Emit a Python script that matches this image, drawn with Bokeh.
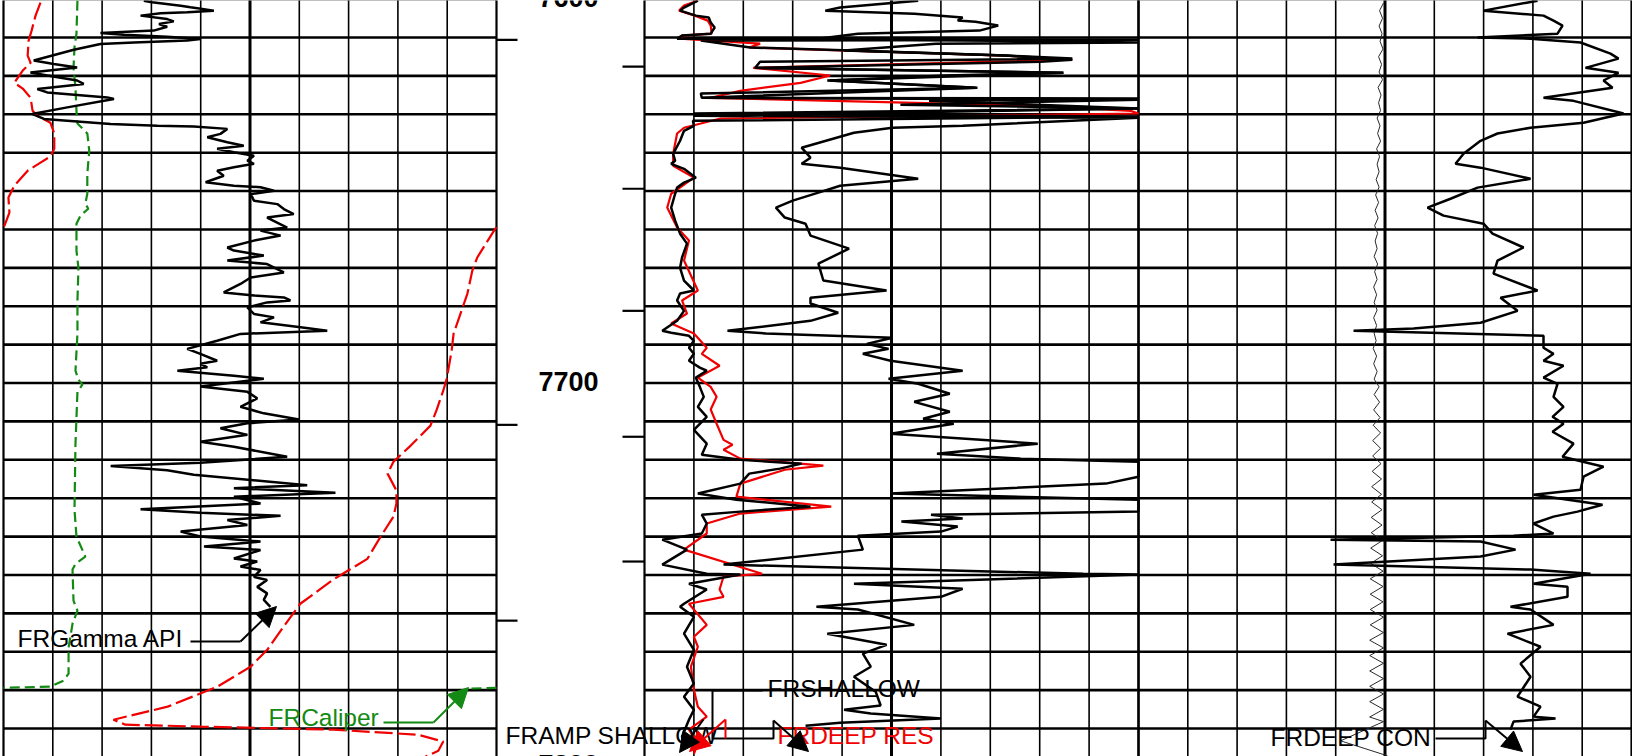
import math
import numpy as np
from bokeh.plotting import figure
from bokeh.models import Range1d, Arrow, NormalHead
from bokeh.embed import file_html
from bokeh.resources import INLINE
from bokeh.core.properties import value

# ---------------- data (depth in ft, values in curve units) ----------------
gr_depth = [7600.4, 7600.8, 7601.7, 7602.1, 7603.0, 7603.4, 7603.7, 7604.3, 7605.2, 7605.8,
            7606.5, 7607.2, 7608.2, 7608.8, 7609.3, 7609.8, 7610.4, 7610.8, 7611.3, 7611.7,
            7613.2, 7616.0, 7616.9, 7617.8, 7619.1, 7619.9, 7621.2, 7622.1, 7623.4, 7624.3,
            7625.6, 7626.0, 7628.2, 7629.9, 7631.2, 7632.5, 7633.0, 7633.2, 7633.8, 7635.1,
            7636.0, 7637.3, 7638.2, 7639.0, 7639.9, 7640.8, 7642.1, 7642.9, 7643.8, 7644.7,
            7646.0, 7647.7, 7648.6, 7649.0, 7649.9, 7650.8, 7652.5, 7653.4, 7654.7, 7656.0,
            7656.9, 7659.5, 7660.3, 7661.6, 7662.9, 7664.7, 7665.5, 7666.8, 7668.1, 7669.0,
            7671.2, 7672.5, 7674.2, 7676.4, 7677.2, 7677.7, 7678.5, 7679.0, 7680.3, 7682.0,
            7682.9, 7684.2, 7685.5, 7686.4, 7687.2, 7689.0, 7691.1, 7692.4, 7694.2, 7695.0,
            7695.9, 7696.8, 7698.1, 7698.9, 7700.9, 7702.3, 7704.0, 7706.2, 7707.9, 7709.5,
            7710.5, 7711.8, 7713.5, 7715.3, 7716.6, 7719.2, 7720.8, 7721.6, 7722.7, 7723.9,
            7726.6, 7727.4, 7728.6, 7729.6, 7731.4, 7732.9, 7733.8, 7734.6, 7735.7, 7737.0,
            7738.7, 7740.0, 7741.3, 7742.6, 7743.5, 7745.7, 7746.5, 7747.8, 7748.7, 7750.5,
            7751.3, 7753.1, 7754.8, 7756.5, 7758.3]
gr_api = [42.7, 45.2, 53.9, 56.9, 64.0, 55.9, 47.8, 41.7, 49.8, 51.8,
          47.3, 49.8, 45.7, 29.5, 36.6, 49.8, 59.9, 55.9, 39.7, 29.5,
          21.4, 9.2, 15.3, 22.4, 8.2, 13.3, 22.4, 24.4, 10.3, 13.3,
          31.6, 33.6, 19.4, 8.7, 12.3, 32.6, 46.8, 57.9, 68.1, 66.0,
          62.0, 68.1, 73.1, 65.0, 70.1, 76.2, 74.2, 76.2, 70.1, 65.0,
          67.0, 61.5, 70.1, 78.2, 82.3, 75.2, 76.2, 83.3, 85.3, 88.3,
          80.2, 86.3, 78.2, 84.3, 76.2, 68.1, 70.1, 79.2, 68.1, 80.2,
          85.3, 75.2, 72.1, 67.0, 76.2, 85.3, 87.3, 80.2, 74.2, 76.2,
          82.3, 78.2, 90.4, 98.5, 72.1, 65.0, 55.9, 59.9, 65.0, 59.9,
          62.0, 52.9, 70.1, 79.2, 59.9, 74.2, 77.2, 72.1, 79.2, 89.9,
          74.2, 66.0, 74.2, 59.9, 70.1, 86.3, 59.9, 32.6, 49.8, 57.9,
          92.4, 70.1, 101.0, 70.1, 78.2, 41.7, 59.9, 84.3, 68.1, 74.2,
          53.9, 59.9, 78.2, 61.0, 78.2, 70.1, 77.2, 72.1, 78.2, 76.2,
          80.2, 77.2, 80.2, 79.2, 81.2]

cal_depth = [7600.4, 7609.0, 7612.6, 7617.9, 7623.1, 7629.1, 7632.4, 7635.0, 7639.5, 7645.5,
             7650.7, 7653.3, 7654.6, 7656.4, 7658.5, 7665.5, 7670.0, 7678.5, 7687.1, 7696.8,
             7699.1, 7700.4, 7702.3, 7715.8, 7733.0, 7740.0, 7745.2, 7747.1, 7748.6, 7756.7,
             7759.3, 7762.7, 7768.9, 7775.7, 7777.5, 7779.1, 7779.6]
cal_in = [7.50, 7.48, 7.44, 7.42, 7.46, 7.48, 7.50, 7.70, 7.74, 7.70,
          7.70, 7.66, 7.72, 7.56, 7.48, 7.48, 7.52, 7.50, 7.50, 7.46,
          7.52, 7.60, 7.50, 7.46, 7.44, 7.48, 7.66, 7.46, 7.40, 7.42,
          7.50, 7.40, 7.32, 7.32, 7.22, 6.95, 5.43]

red1_depth = [7600.9, 7604.3, 7608.2, 7610.8, 7614.7, 7616.6, 7618.6, 7621.8, 7623.3, 7625.7,
              7629.1, 7630.4, 7632.2, 7635.0, 7639.0, 7641.0, 7642.6, 7644.7, 7648.6, 7651.7,
              7655.6, 7659.0, 7660.1, 7667.3, 7670.7, 7676.7, 7681.9, 7687.1, 7691.6, 7698.9,
              7702.0, 7707.2, 7711.1, 7716.3, 7720.5, 7723.6, 7728.0, 7731.4, 7734.8, 7740.0,
              7745.8, 7751.2, 7757.5, 7763.5, 7769.5, 7773.9, 7779.1, 7784.3, 7787.7, 7789.0,
              7789.5, 7790.3, 7791.6, 7793.4, 7795.8, 7797.3]
red1_val = [7.5, 6.5, 5.7, 5.1, 4.9, 5.5, 3.9, 2.2, 3.9, 5.5,
            5.9, 6.9, 9.5, 10.3, 10.3, 9.5, 7.5, 4.9, 2.2, 1.0,
            1.2, 0.2, -0.4, -3.9, -4.9, -5.9, -7.3, -8.7, -9.1, -10.1,
            -10.8, -12.2, -13.4, -17.4, -20.9, -22.1, -20.3, -20.3, -20.9, -23.5,
            -26.2, -33.1, -39.8, -43.2, -46.5, -49.9, -56.6, -66.7, -77.7, -75.3,
            -60.0, -33.1, -16.0, -10.8, -11.8, -14.4]

sha_depth = [7600.4, 7602.2, 7603.0, 7604.3, 7604.8, 7606.1, 7607.4, 7609.0, 7609.5, 7610.3,
             7610.6, 7610.8, 7612.6, 7613.4, 7614.7, 7615.5, 7616.3, 7617.9, 7619.2, 7619.9,
             7621.2, 7623.1, 7624.6, 7625.7, 7626.2, 7627.5, 7628.5, 7629.8, 7630.6, 7631.7,
             7633.0, 7634.3, 7636.9, 7640.3, 7642.1, 7642.9, 7644.2, 7646.5, 7647.8, 7649.1,
             7650.7, 7654.3, 7657.7, 7661.1, 7663.7, 7667.3, 7670.0, 7673.3, 7675.9, 7676.7,
             7678.5, 7681.2, 7683.8, 7686.4, 7686.9, 7687.7, 7689.0, 7690.8, 7692.4, 7694.2,
             7696.0, 7696.8, 7698.6, 7701.0, 7703.6, 7706.2, 7708.8, 7712.2, 7715.8, 7718.7,
             7720.0, 7721.0, 7722.3, 7723.6, 7726.2, 7728.8, 7730.4, 7732.2, 7733.5, 7734.3,
             7736.6, 7739.2, 7740.8, 7743.4, 7747.3, 7749.7, 7749.9, 7752.3, 7753.8, 7757.5,
             7758.3, 7760.9, 7765.3, 7769.5, 7773.9, 7778.3, 7781.7, 7785.1, 7787.7, 7792.1,
             7794.7]
sha_res = [5.4, 4.0, 3.6, 5.2, 6.5, 6.7, 7.1, 6.7, 3.8, 3.3,
           58, 5.7, 10.7, 20.9, 36.5, 43.3, 11.7, 11.2, 42.4, 30.5,
           18.8, 33.5, 5.7, 5.8, 58, 25.9, 58, 5.0, 58, 4.9,
           5.0, 4.0, 3.6, 2.9, 3.1, 2.7, 4.0, 5.2, 4.0, 3.3,
           3.1, 2.7, 3.1, 3.6, 4.3, 3.8, 3.6, 4.0, 5.0, 3.6,
           3.3, 4.0, 3.3, 1.8, 2.7, 4.5, 5.0, 4.5, 5.0, 4.5,
           5.6, 6.3, 5.2, 5.6, 6.0, 5.4, 6.3, 5.0, 6.3, 5.8,
           9.7, 15.9, 13.7, 10.6, 9.7, 5.4, 9.3, 16.8, 9.7, 5.8,
           6.3, 5.8, 1.8, 4.3, 1.8, 6.3, 9.7, 4.5, 6.3, 4.0,
           3.6, 5.0, 4.0, 5.0, 4.3, 5.0, 4.0, 5.0, 4.5, 3.8,
           4.0]

deep_depth = [7600.4, 7601.7, 7603.0, 7604.3, 7605.6, 7606.9, 7609.0, 7609.5, 7610.3, 7611.6,
              7612.6, 7614.7, 7615.8, 7617.9, 7619.9, 7621.8, 7623.9, 7625.7, 7627.8, 7629.1,
              7629.8, 7631.1, 7632.4, 7633.5, 7635.0, 7640.3, 7643.4, 7646.5, 7650.7, 7654.3,
              7659.5, 7662.9, 7668.1, 7675.9, 7678.5, 7681.9, 7684.5, 7687.1, 7690.8, 7692.4,
              7695.5, 7698.6, 7701.0, 7703.6, 7706.9, 7710.6, 7714.8, 7716.1, 7717.4, 7719.7,
              7721.5, 7722.6, 7726.2, 7729.6, 7732.2, 7734.0, 7736.6, 7739.2, 7743.4, 7749.7,
              7750.4, 7753.8, 7755.7, 7757.5, 7763.0, 7766.1, 7768.7, 7773.9, 7779.9, 7784.3,
              7786.9, 7790.3, 7793.9, 7796.6]
deep_res = [5.4, 4.0, 3.5, 5.1, 6.4, 6.7, 6.8, 3.8, 3.6, 11.7,
            10.6, 36.5, 43.3, 11.0, 18.8, 15.8, 9.7, 6.7, 40.1, 49.2,
            58, 7.7, 5.7, 4.0, 3.3, 2.9, 2.9, 5.0, 2.7, 2.3,
            3.3, 4.5, 4.0, 5.4, 3.8, 4.3, 2.7, 5.0, 6.3, 5.8,
            7.6, 5.4, 6.7, 7.3, 6.7, 7.3, 8.0, 8.9, 8.0, 9.7,
            18.1, 14.2, 9.7, 9.3, 18.9, 9.7, 6.3, 6.3, 4.0, 11.9,
            8.0, 7.6, 8.0, 4.5, 6.3, 5.0, 5.4, 4.7, 5.0, 5.4,
            6.3, 4.5, 5.4, 5.0]

amp_depth = [7600.4, 7602.2, 7603.0, 7603.8, 7604.8, 7605.6, 7605.9, 7606.9, 7608.2, 7609.0,
             7610.3, 7611.3, 7611.6, 7613.4, 7614.7, 7615.8, 7616.3, 7617.9, 7619.2, 7621.2,
             7623.1, 7625.7, 7625.9, 7626.5, 7628.5, 7630.4, 7630.9, 7633.0, 7633.5, 7634.8,
             7638.7, 7641.3, 7642.9, 7643.9, 7646.8, 7648.6, 7650.4, 7652.5, 7654.3, 7656.9,
             7658.5, 7661.6, 7665.0, 7668.9, 7673.3, 7675.9, 7677.8, 7679.3, 7681.7, 7683.8,
             7686.4, 7687.1, 7688.2, 7689.8, 7691.1, 7692.4, 7694.2, 7696.8, 7698.9, 7700.2,
             7702.8, 7704.9, 7707.5, 7709.3, 7710.6, 7713.2, 7715.8, 7718.4, 7719.7, 7720.5,
             7724.4, 7726.2, 7728.8, 7730.4, 7733.5, 7734.3, 7735.3, 7736.1, 7737.4, 7738.7,
             7739.8, 7743.4, 7747.3, 7749.7, 7749.9, 7752.3, 7753.6, 7755.7, 7758.3, 7759.0,
             7763.0, 7765.3, 7768.2, 7770.5, 7773.9, 7776.5, 7780.4, 7784.0, 7785.1, 7786.1,
             7787.4, 7788.5, 7789.3]
amp_res = [27.7, 19.8, 18.3, 27.3, 32.2, 31.7, 33.5, 35.8, 33.9, 21.6,
           17.6, 58, 29.5, 20.2, 36.5, 43.3, 40.1, 11.5, 42.4, 18.5,
           33.7, 5.8, 58, 28.8, 58, 5.0, 58, 32.2, 25.1, 21.2,
           15.9, 16.8, 15.9, 19.8, 27.7, 19.8, 17.6, 15.0, 13.3, 14.2,
           16.3, 16.8, 20.7, 17.6, 18.1, 24.5, 16.8, 16.8, 19.6, 16.8,
           8.4, 12.3, 25.1, 22.5, 24.7, 22.1, 24.9, 32.2, 24.7, 27.7,
           30.9, 27.3, 30.9, 28.2, 31.3, 24.9, 39.8, 29.6, 38.1, 58,
           58, 46.7, 24.9, 58, 58, 29.0, 32.2, 26.0, 31.7, 30.0,
           21.6, 22.1, 8.0, 44.4, 58, 21.2, 32.2, 30.0, 17.4, 21.6,
           27.3, 18.5, 24.5, 22.1, 22.9, 21.2, 23.4, 23.9, 20.2, 22.9,
           30.0, 19.8, 16.3]

con_depth = [7600.4, 7603.0, 7604.3, 7605.6, 7606.9, 7609.0, 7610.0, 7610.3, 7611.3, 7614.2,
             7615.5, 7617.9, 7619.2, 7621.2, 7623.1, 7625.7, 7626.5, 7629.8, 7632.2, 7633.5,
             7635.0, 7636.9, 7640.3, 7642.9, 7643.9, 7646.8, 7649.1, 7652.0, 7654.3, 7656.4,
             7658.5, 7661.1, 7664.7, 7668.1, 7671.5, 7675.9, 7677.8, 7681.2, 7684.3, 7685.8,
             7686.4, 7686.9, 7687.7, 7690.8, 7692.4, 7694.2, 7695.5, 7698.6, 7700.2, 7703.6,
             7706.2, 7708.8, 7710.6, 7712.7, 7715.8, 7719.2, 7721.8, 7724.4, 7727.8, 7729.1,
             7731.7, 7733.5, 7734.8, 7736.6, 7739.2, 7739.8, 7740.8, 7741.3, 7743.4, 7745.2,
             7747.3, 7748.6, 7749.7, 7752.3, 7753.1, 7755.7, 7758.3, 7759.0, 7763.0, 7765.3,
             7768.7, 7773.1, 7776.5, 7781.7, 7784.3, 7786.9, 7787.4, 7788.2, 7790.3]
con_mmho = [190.6, 300.1, 178.5, 158.2, 139.9, 150.1, 312.3, 204.8, 103.4, 42.6,
            26.4, 93.3, 26.4, 56.8, 38.5, 178.5, 117.6, 16.2, 97.3, 204.8,
            271.8, 306.2, 340.7, 356.9, 306.2, 204.8, 312.3, 367.1, 413.7, 381.3,
            300.1, 281.9, 219.0, 271.8, 279.9, 190.6, 265.7, 231.2, 306.2, 442.1,
            563.8, 407.6, 178.5, 178.5, 158.2, 178.5, 137.9, 178.5, 150.1, 158.2,
            137.9, 160.2, 137.9, 160.2, 117.6, 139.9, 56.8, 97.3, 103.4, 198.7,
            58.8, 109.5, 158.2, 198.7, 158.2, 239.3, 610.4, 306.2, 235.2, 306.2,
            604.3, 204.8, 83.1, 198.7, 129.8, 129.8, 245.4, 204.8, 158.2, 251.5,
            184.5, 225.1, 204.8, 231.2, 184.5, 198.7, 154.1, 239.3, 245.4]

thin_depth = list(range(7601, 7789, 2)) + [7788.2, 7793.2, 7797.1]
thin_val = [503, 511, 505, 512, 506, 510, 504, 513, 507, 512,
            505, 514, 508, 513, 509, 516, 510, 515, 509, 517,
            511, 516, 512, 518, 512, 519, 513, 520, 514, 521,
            515, 520, 516, 522, 515, 521, 516, 523, 517, 522,
            516, 523, 517, 522, 518, 524, 517, 523, 516, 522,
            512, 522, 511, 523, 510, 524, 509, 525, 509, 525,
            508, 526, 507, 527, 507, 527, 506, 528, 506, 528,
            505, 529, 505, 529, 504, 530, 504, 530, 504, 530,
            503, 530, 503, 531, 503, 531, 503, 531, 503, 531,
            503, 531, 503, 531,
            503, 590, 495]

depth_labels = [7600, 7700, 7800]
left_tick_depths = [7610.6, 7710.9, 7761.9]
right_tick_depths = [7617.6, 7649.4, 7681.2, 7714.0, 7746.5]
curve_labels = ["FRGamma API", "FRCaliper", "FRAMP SHALLOW", "FRSHALLOW", "FRDEEP RES", "FRDEEP CON"]

# ---------------- layout (reference pixel geometry) ----------------
REF_W, REF_H = 1632, 756
TOP_DEPTH = 7600.36
PX_PER_FT = 3.839
BOT_DEPTH = TOP_DEPTH + REF_H / PX_PER_FT
TRACK1 = (3.0, 496.0)
TRACK2 = (644.0, 1138.0)
TRACK3 = (1138.0, 1631.0)
RED = "#f00000"
GREEN = "#138a13"
FONT = "Liberation Sans"


def dpx(y):
    return TOP_DEPTH + y / PX_PER_FT


def track_range(track, lo, hi):
    L, R = track
    k = (hi - lo) / (R - L)
    return Range1d(start=lo - L * k, end=hi + (REF_W - R) * k)


def wrap_segments(depths, vals, lo, hi):
    span = hi - lo
    segs = []
    cur_d, cur_v = [], []
    prev = None
    for d, v in zip(depths, vals):
        k = math.floor((v - lo) / span)
        if prev is not None and k != prev[2]:
            pd, pv, pk = prev
            b = lo + max(k, pk) * span
            t = (b - pv) / (v - pv)
            dc = pd + t * (d - pd)
            cur_d.append(dc)
            cur_v.append(b - pk * span)
            segs.append((cur_d, cur_v))
            cur_d, cur_v = [dc], [b - k * span]
        cur_d.append(d)
        cur_v.append(v - k * span)
        prev = (d, v, k)
    segs.append((cur_d, cur_v))
    return segs


p = figure(width=REF_W, height=REF_H, x_range=Range1d(0, REF_W),
           y_range=Range1d(BOT_DEPTH, TOP_DEPTH),
           x_axis_location=None, y_axis_location=None,
           toolbar_location=None, output_backend="svg", min_border=0)
p.grid.visible = False
p.outline_line_color = None
p.background_fill_color = "white"
p.border_fill_color = "white"

p.extra_x_ranges = {
    "gr": track_range(TRACK1, 0, 150),
    "cal": track_range(TRACK1, 6, 16),
    "red": track_range(TRACK1, 0, 100),
    "res": track_range(TRACK2, 0, 50),
    "con": track_range(TRACK3, 1000, 0),
}

# ---- grid ----
yb, yt = BOT_DEPTH + 5, TOP_DEPTH - 5
for (L, R) in (TRACK1, TRACK2, TRACK3):
    xs = [L + i * (R - L) / 10 for i in range(11)]
    thin = [xs[i] for i in (1, 2, 3, 4, 6, 7, 8, 9)]
    p.segment(x0=thin, y0=[yb] * 8, x1=thin, y1=[yt] * 8, line_color="black", line_width=1.6)
    p.segment(x0=[xs[5]], y0=[yb], x1=[xs[5]], y1=[yt], line_color="black", line_width=3)
    p.segment(x0=[xs[0], xs[10]], y0=[yb, yb], x1=[xs[0], xs[10]], y1=[yt, yt],
              line_color="black", line_width=2.2)
    hd = list(range(7600, 7801, 10))
    p.segment(x0=[L] * len(hd), y0=hd, x1=[R] * len(hd), y1=hd, line_color="black", line_width=2.6)

# depth track ticks
p.segment(x0=[TRACK1[1]] * len(left_tick_depths), y0=left_tick_depths,
          x1=[TRACK1[1] + 21] * len(left_tick_depths), y1=left_tick_depths,
          line_color="black", line_width=2.2)
p.segment(x0=[TRACK2[0] - 22] * len(right_tick_depths), y0=right_tick_depths,
          x1=[TRACK2[0]] * len(right_tick_depths), y1=right_tick_depths,
          line_color="black", line_width=2.2)

# depth labels
p.text(x=[568] * len(depth_labels), y=depth_labels, text=[str(d) for d in depth_labels],
       text_font=value(FONT), text_font_size=value("27px"), text_font_style="bold",
       text_align="center", text_baseline="middle", y_offset=-2, text_color="black")

# ---- track 1 ----
segs = wrap_segments(red1_depth, red1_val, 0, 100)
p.multi_line(xs=[s[1] for s in segs], ys=[s[0] for s in segs], x_range_name="red",
             line_color=RED, line_width=2.2, line_dash="18 5")
segs = wrap_segments(cal_depth, cal_in, 6, 16)
p.multi_line(xs=[s[1] for s in segs], ys=[s[0] for s in segs], x_range_name="cal",
             line_color=GREEN, line_width=2.2, line_dash="10 5")
p.line(x=gr_api, y=gr_depth, x_range_name="gr", line_color="black", line_width=2.5)

# ---- track 2 ----
p.line(x=list(np.clip(deep_res, 0, 50)), y=deep_depth, x_range_name="res", line_color=RED, line_width=2.2)
p.line(x=list(np.clip(sha_res, 0, 50)), y=sha_depth, x_range_name="res", line_color="black", line_width=2.5)
p.line(x=list(np.clip(amp_res, 0, 50)), y=amp_depth, x_range_name="res", line_color="black", line_width=2.5)

# ---- track 3 ----
p.line(x=thin_val, y=thin_depth, x_range_name="con", line_color="#2a2a2a", line_width=1)
p.line(x=con_mmho, y=con_depth, x_range_name="con", line_color="black", line_width=2.5)

# ---- curve labels with leaders ----
label_pos = [(17, 638), (268, 717), (505, 735), (767, 688), (777, 735), (1270, 737)]
label_col = ["black", GREEN, "black", "black", RED, "black"]
for txt, (lx, ly), c in zip(curve_labels, label_pos, label_col):
    p.text(x=[lx], y=[dpx(ly)], text=[txt], text_font=value(FONT), text_font_size=value("24.5px"),
           text_align="left", text_baseline="middle", text_color=c)

leaders = [
    ("black", [(190, 641), (240, 641)], ((240, 641), (276, 606))),
    (GREEN, [(383, 722), (433, 722)], ((433, 722), (468, 687))),
    ("black", [(762, 690), (712, 690), (712, 738), (773, 738), (773, 720)], ((773, 720), (808, 751))),
    (RED, [(725, 738), (725, 719)], ((725, 719), (689, 751))),
    ("black", [], ((703, 719), (679, 752))),
    ("black", [(1435, 738), (1485, 738), (1485, 720)], ((1485, 720), (1522, 751))),
]
for c, path, ((x0, y0), (x1, y1)) in leaders:
    if path:
        p.line(x=[q[0] for q in path], y=[dpx(q[1]) for q in path], line_color=c, line_width=2)
    p.add_layout(Arrow(end=NormalHead(size=20, fill_color=c, line_color=c),
                       x_start=x0, y_start=dpx(y0), x_end=x1, y_end=dpx(y1),
                       line_color=c, line_width=2))

open("out.html", "w").write(file_html(p, INLINE))
